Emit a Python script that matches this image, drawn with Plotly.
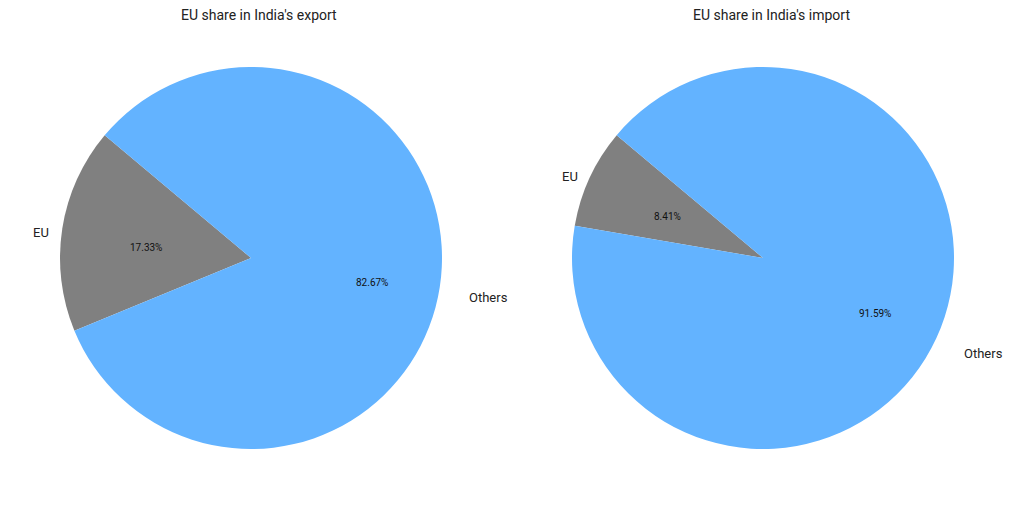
import math
import plotly.graph_objects as go

labels = ["EU", "Others"]
export_share = [17.33, 82.67]
import_share = [8.41, 91.59]
titles = ["EU share in India's export", "EU share in India's import"]
colors = ["#808080", "#63b3ff"]

W, H = 1024, 512
R = 191
centers = [(251, 257), (763, 257)]
start = 140.0
dx_fix, dy_fix = -8, 7  # compensation for plotly's pie placement

fig = go.Figure()
annotations = []
for (cx, cy), vals, title in zip(centers, [export_share, import_share], titles):
    dom_x = [(cx - R + dx_fix) / W, (cx + R + dx_fix) / W]
    dom_y = [(H - cy - R + dy_fix) / H, (H - cy + R + dy_fix) / H]
    total = sum(vals)
    span0 = 360 * vals[0] / total
    fig.add_trace(go.Pie(
        labels=labels, values=vals, sort=False, direction="counterclockwise",
        rotation=-(start + span0 - 90), marker=dict(colors=colors, line=dict(width=0)),
        textinfo="none", hoverinfo="label+percent", showlegend=False,
        domain=dict(x=dom_x, y=dom_y)))
    a = start
    for lab, v in zip(labels, vals):
        span = 360 * v / total
        mid = math.radians(a + span / 2)
        a += span
        lx = cx + 1.1 * R * math.cos(mid)
        ly = cy - 1.1 * R * math.sin(mid)
        annotations.append(dict(x=lx / W, y=1 - ly / H, xref="paper", yref="paper",
                                text=lab, showarrow=False,
                                xanchor="right" if math.cos(mid) < 0 else "left",
                                yanchor="middle", font=dict(size=13, color="#222")))
        px = cx + 0.6 * R * math.cos(mid)
        py = cy - 0.6 * R * math.sin(mid)
        annotations.append(dict(x=px / W, y=1 - py / H, xref="paper", yref="paper",
                                text=f"{v:.2f}%", showarrow=False,
                                xanchor="center", yanchor="middle",
                                font=dict(size=10, color="#111")))
    annotations.append(dict(x=cx / W, y=1 - 7 / H, xref="paper", yref="paper",
                            text=title, showarrow=False, xanchor="center",
                            yanchor="middle", font=dict(size=14, color="#222")))

fig.update_layout(width=W, height=H, margin=dict(l=0, r=0, t=0, b=0),
                  paper_bgcolor="white", plot_bgcolor="white",
                  font=dict(family="Roboto, Open Sans, sans-serif"),
                  annotations=annotations)
fig.write_html("out.html")
